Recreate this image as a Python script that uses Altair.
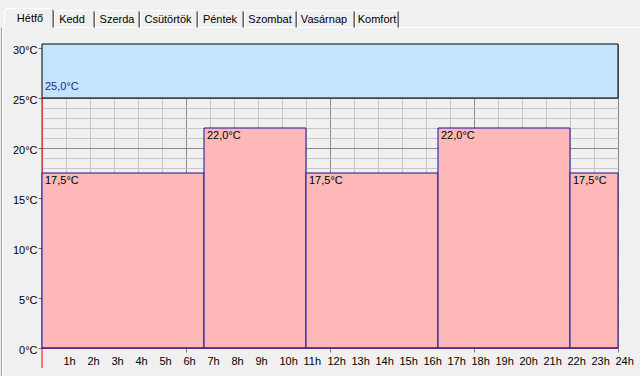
import altair as alt
import pandas as pd

# ---- data ----
seg_start = [0, 6.75, 11, 16.5, 22]
seg_end = [6.75, 11, 16.5, 22, 24]
seg_temp = [17.5, 22.0, 17.5, 22.0, 17.5]
comfort_low = 25.0
y_max = 30.4
day_start = 0
day_end = 24
hour_ticks = list(range(0, 25))
temp_ticks = list(range(0, 31))
tabs = ["Hétfő", "Kedd", "Szerda", "Csütörtök", "Péntek", "Szombat", "Vasárnap", "Komfort"]

# ---- layout / style constants (pixels) ----
FONT = "Liberation Sans"
FS = 11
W, H = 576, 304
PL, PT = 42, 44
TAB_CENTERS = [30, 72, 117, 168, 220, 270, 324, 377]
TAB_SEPS = [53, 94, 139, 197, 243, 296, 354, 398]


def fmt(t):
    return f"{t:.1f}".replace(".", ",") + "°C"


xs = alt.Scale(domain=[day_start, day_end], nice=False, zero=False)
ys = alt.Scale(domain=[0, y_max], nice=False, zero=False)

segs = pd.DataFrame({"x0": seg_start, "x1": seg_end, "y0": seg_temp, "y1": [0] * len(seg_temp),
                     "lab": [fmt(t) for t in seg_temp]})
band = pd.DataFrame({"x0": [day_start], "x1": [day_end], "y0": [comfort_low],
                     "y1": [y_max], "lab": [fmt(comfort_low)]})
red = pd.DataFrame({"x0": [day_start], "y0": [-2.0], "y1": [comfort_low]})
xl = pd.DataFrame({"x0": [day_start], "x1": [day_end], "y0": [0]})

x_axis = alt.Axis(
    values=hour_ticks, title=None, grid=True, domain=False,
    gridColor={"condition": {"test": "datum.value % 6 === 0", "value": "#8a8a8a"}, "value": "#c6c6c6"},
    tickColor={"condition": {"test": "datum.value % 6 === 0 && datum.value > 0", "value": "#808080"},
               "value": "transparent"},
    tickSize=4, labelPadding=3,
    labelExpr="datum.value === 0 ? '' : datum.value + 'h'",
    labelAlign="left", labelOffset=-3, labelFlush=False, labelOverlap=False, labelBound=False,
    labelFont=FONT, labelFontSize=FS, labelColor="#000000",
)
y_axis = alt.Axis(
    values=temp_ticks, title=None, grid=True, domain=False,
    gridColor={"condition": {"test": "datum.value % 5 === 0", "value": "#8a8a8a"}, "value": "#c6c6c6"},
    tickColor={"condition": {"test": "datum.value % 5 === 0", "value": "#707070"},
               "value": "transparent"},
    tickSize=4, labelPadding=1,
    labelExpr="datum.value % 5 === 0 ? datum.value + '°C' : ''",
    labelBaseline="middle",
    labelOffset=2, labelFlush=False, labelOverlap=False, labelBound=False,
    labelFont=FONT, labelFontSize=FS, labelColor="#000000",
)


def X(f):
    return alt.X(f, scale=xs, axis=x_axis)


def Y(f):
    return alt.Y(f, scale=ys, axis=y_axis)


band_rect = alt.Chart(band).mark_rect(fill="#c4e4fc", stroke="#000000", strokeWidth=1).encode(
    x=X("x0:Q"), x2="x1:Q", y=Y("y0:Q"), y2="y1:Q",
)

red_axis = alt.Chart(red).mark_rule(color="#ff0000", strokeWidth=1).encode(
    x=X("x0:Q"), y=Y("y0:Q"), y2="y1:Q",
)

seg_rect = alt.Chart(segs).mark_rect(fill="#ffb8b8", stroke="#1010a8", strokeWidth=1).encode(
    x=X("x0:Q"), x2="x1:Q", y=Y("y0:Q"), y2="y1:Q",
)

x_line = alt.Chart(xl).mark_rule(color="#7a007a", strokeWidth=1).encode(
    x=X("x0:Q"), x2="x1:Q", y=Y("y0:Q"),
)

band_text = alt.Chart(band).mark_text(align="left", baseline="bottom", dx=3, dy=-6,
                                      font=FONT, fontSize=FS, color="#1f1fa0").encode(
    x=X("x0:Q"), y=Y("y0:Q"), text="lab:N",
)

seg_text = alt.Chart(segs).mark_text(align="left", baseline="top", dx=3, dy=2,
                                     font=FONT, fontSize=FS, color="#000000").encode(
    x=X("x0:Q"), y=Y("y0:Q"), text="lab:N",
)

layers = [band_rect, red_axis, seg_rect, x_line, band_text, seg_text]

# ---- window chrome: tab strip ----
one = pd.DataFrame({"k": [0]})


def hrule(x1, x2, y, color):
    return alt.Chart(one).mark_rule(color=color, strokeWidth=1).encode(
        x=alt.value(x1 - PL + 0.5), x2=alt.value(x2 - PL + 0.5), y=alt.value(y - PT + 0.5))


def vrule(x, y1, y2, color):
    return alt.Chart(one).mark_rule(color=color, strokeWidth=1).encode(
        x=alt.value(x - PL + 0.5), y=alt.value(y1 - PT + 0.5), y2=alt.value(y2 - PT + 0.5))


chrome = [
    hrule(2, 4, 27, "#ffffff"),
    hrule(54, 640, 27, "#ffffff"),
    vrule(1, 27, 376, "#a0a0a0"),
    vrule(2, 28, 376, "#ffffff"),
    hrule(5, 52, 8, "#ffffff"),
    vrule(4, 9, 27, "#ffffff"),
    vrule(52, 9, 27, "#a0a0a0"),
    vrule(53, 10, 27, "#696969"),
]
for i, sx in enumerate(TAB_SEPS[1:]):
    chrome.append(vrule(sx - 1, 11, 27, "#a0a0a0"))
    chrome.append(vrule(sx, 11, 27, "#696969"))
for i, sx in enumerate(TAB_SEPS[:-1]):
    chrome.append(vrule(sx + 1, 11, 27, "#ffffff"))
    chrome.append(hrule(sx + 2, TAB_SEPS[i + 1] - 2, 10, "#ffffff"))

for i, (lab, cx) in enumerate(zip(tabs, TAB_CENTERS)):
    yb = 22 if i == 0 else 23
    chrome.append(
        alt.Chart(pd.DataFrame({"lab": [lab]})).mark_text(
            align="center", baseline="alphabetic", font=FONT, fontSize=FS, color="#000000").encode(
            x=alt.value(cx - PL), y=alt.value(yb - PT), text="lab:N")
    )

chart = alt.layer(*layers, *chrome).properties(
    width=W, height=H,
    padding={"left": PL, "top": PT, "right": 640 - PL - W, "bottom": 376 - PT - H},
    autosize=alt.AutoSizeParams(type="none"),
    background="#f0f0f0",
).configure_view(stroke=None)

chart.save("out.html", embed_options={"renderer": "svg", "actions": False})
